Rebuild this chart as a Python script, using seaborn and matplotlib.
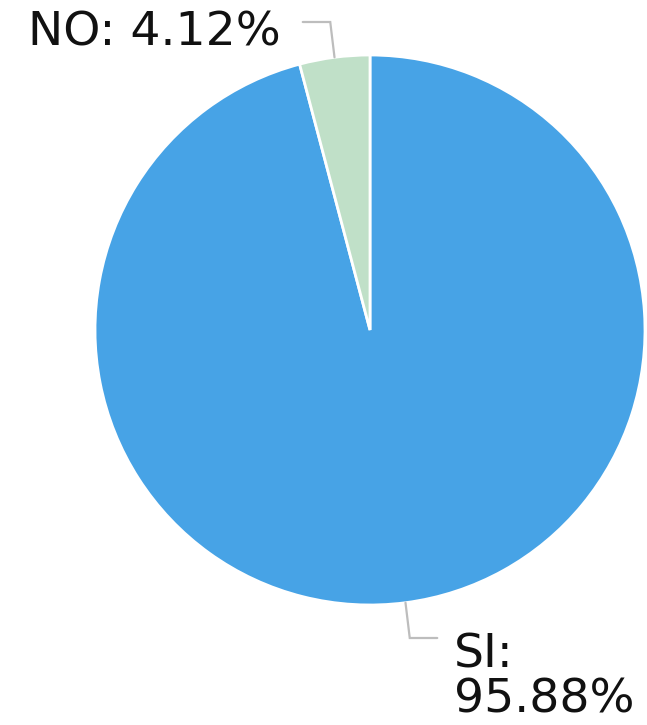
import numpy as np
import matplotlib
matplotlib.use("Agg")
import matplotlib.pyplot as plt
import seaborn as sns

categories = ["SI", "NO"]
values = [95.88, 4.12]
labels = ["SI:\n95.88%", "NO: 4.12%"]
colors = ["#47A3E6", "#C0E0C8"]

sns.set_theme(style="white")
plt.rcParams['font.family'] = ['DejaVu Sans']

W, H = 647, 725
fig = plt.figure(figsize=(W / 100, H / 100), dpi=100)
cx, cy, r = 370, 330, 275
ax = fig.add_axes([(cx - r) / W, (H - cy - r) / H, 2 * r / W, 2 * r / H])

wedges, _ = ax.pie(values, colors=colors, startangle=90, counterclock=False,
                   radius=1, wedgeprops=dict(edgecolor="white", linewidth=2))
ax.set_xlim(-1, 1)
ax.set_ylim(-1, 1)
ax.set_aspect("equal")
ax.axis("off")

for w, lab in zip(wedges, labels):
    ang = np.deg2rad((w.theta1 + w.theta2) / 2)
    x0, y0 = np.cos(ang), np.sin(ang)
    side = np.sign(x0)
    vert = np.sign(y0)
    x1 = x0 * 1.12
    y1 = vert * 1.12
    x2 = x1 + side * 0.10
    ax.plot([x0, x1, x2], [y0, y1, y1],
            color="#BDBDBD", lw=1.6, clip_on=False, solid_joinstyle="miter")
    if side < 0:
        ax.text(x2 - 0.08, y1 - 0.04, lab, ha="right", va="center", fontsize=34,
                color="#111111", clip_on=False)
    else:
        ax.text(x2 + 0.06, y1 + 0.02, lab, ha="left", va="top", fontsize=34,
                color="#111111", clip_on=False, linespacing=1.0)

fig.savefig("out.png", dpi=100)
